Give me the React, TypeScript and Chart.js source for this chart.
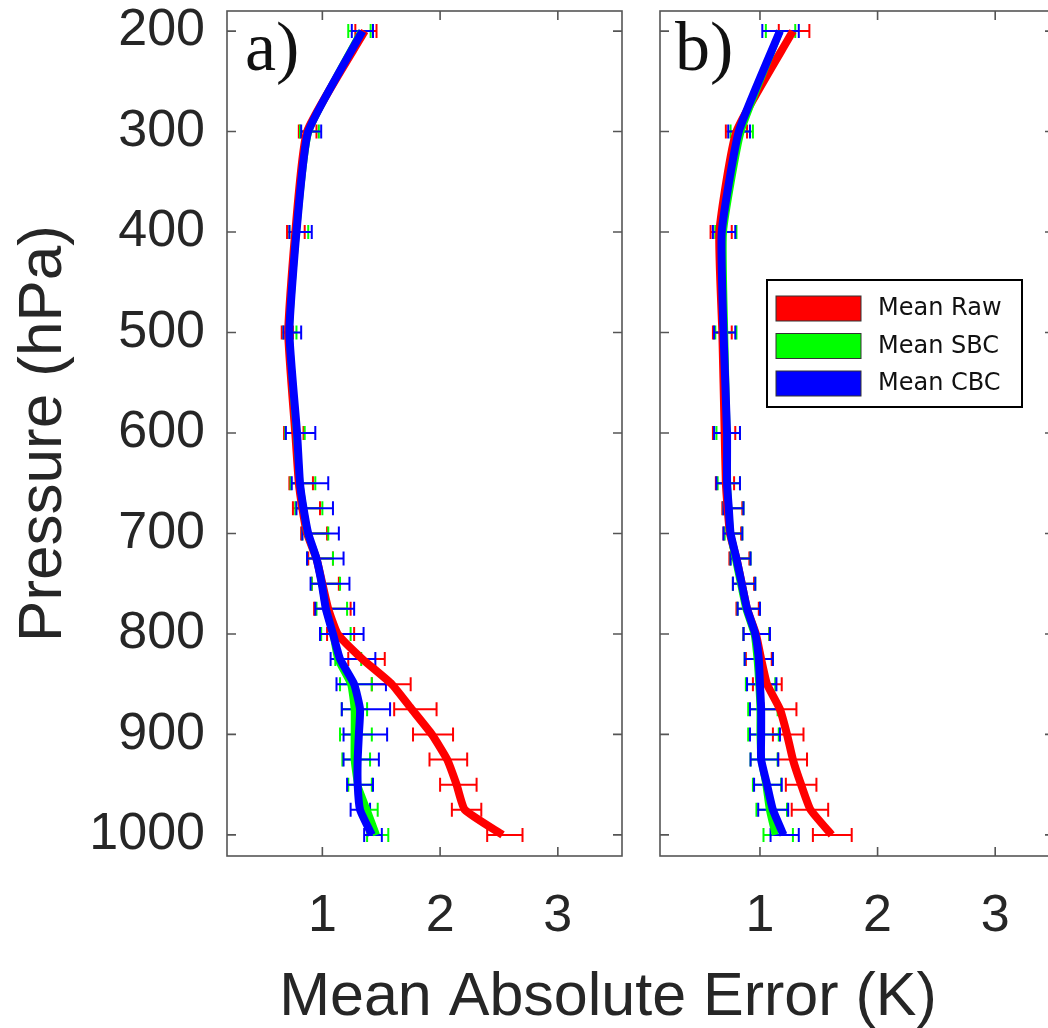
import React, { useEffect, useRef } from "react";
import { Chart, registerables } from "chart.js";

Chart.register(...registerables);

// ---------- data ----------
const pressureLevels = [200, 300, 400, 500, 600, 650, 675, 700, 725, 750, 775, 800, 825, 850, 875, 900, 925, 950, 975, 1000];
const yTickValues = [200, 300, 400, 500, 600, 700, 800, 900, 1000];
const xTickValues = [1, 2, 3];
const seriesLabels = ["Mean Raw", "Mean SBC", "Mean CBC"];
const seriesColors = ["#ff0000", "#00ff00", "#0000ff"];
const panelLabels = ["a)", "b)"];
const xAxisTitle = "Mean Absolute Error (K)";
const yAxisTitle = "Pressure (hPa)";

// panel a
const rawA = [1.36, 0.87, 0.77, 0.71, 0.77, 0.8, 0.83, 0.87, 0.95, 1.0, 1.05, 1.13, 1.34, 1.59, 1.76, 1.93, 2.06, 2.14, 2.21, 2.53];
const rawALo = [1.28, 0.8, 0.7, 0.655, 0.675, 0.72, 0.75, 0.82, 0.88, 0.91, 0.93, 1.04, 1.22, 1.42, 1.61, 1.77, 1.91, 2.0, 2.1, 2.4];
const rawAHi = [1.46, 0.95, 0.85, 0.75, 0.84, 0.92, 0.98, 1.04, 1.09, 1.14, 1.24, 1.27, 1.53, 1.75, 1.97, 2.11, 2.23, 2.31, 2.35, 2.7];
const sbcA = [1.33, 0.885, 0.78, 0.72, 0.78, 0.81, 0.84, 0.875, 0.95, 0.995, 1.03, 1.09, 1.13, 1.24, 1.27, 1.27, 1.27, 1.3, 1.38, 1.46];
const sbcALo = [1.22, 0.81, 0.72, 0.67, 0.685, 0.73, 0.77, 0.83, 0.87, 0.91, 0.95, 0.99, 1.11, 1.15, 1.165, 1.15, 1.17, 1.22, 1.32, 1.38];
const sbcAHi = [1.41, 0.97, 0.88, 0.78, 0.85, 0.94, 1.0, 1.05, 1.09, 1.15, 1.21, 1.24, 1.33, 1.42, 1.38, 1.42, 1.405, 1.42, 1.47, 1.56];
const cbcA = [1.34, 0.88, 0.78, 0.72, 0.785, 0.81, 0.84, 0.88, 0.95, 0.995, 1.03, 1.09, 1.15, 1.27, 1.32, 1.31, 1.3, 1.3, 1.32, 1.42];
const cbcALo = [1.25, 0.82, 0.72, 0.67, 0.69, 0.74, 0.78, 0.83, 0.87, 0.9, 0.94, 0.98, 1.07, 1.12, 1.165, 1.18, 1.18, 1.21, 1.24, 1.355];
const cbcAHi = [1.43, 0.99, 0.91, 0.82, 0.94, 1.05, 1.09, 1.14, 1.18, 1.23, 1.27, 1.35, 1.45, 1.54, 1.575, 1.55, 1.48, 1.43, 1.405, 1.505];

// panel b
const rawB = [1.28, 0.8, 0.655, 0.68, 0.7, 0.71, 0.725, 0.745, 0.8, 0.845, 0.89, 0.965, 1.01, 1.06, 1.17, 1.23, 1.28, 1.35, 1.43, 1.61];
const rawBLo = [1.16, 0.71, 0.58, 0.6, 0.6, 0.625, 0.68, 0.69, 0.74, 0.77, 0.8, 0.86, 0.88, 0.94, 1.03, 1.11, 1.155, 1.22, 1.27, 1.45];
const rawBHi = [1.42, 0.89, 0.76, 0.76, 0.79, 0.78, 0.85, 0.84, 0.91, 0.95, 0.99, 1.08, 1.1, 1.185, 1.31, 1.37, 1.4, 1.48, 1.58, 1.78];
const sbcB = [1.17, 0.84, 0.69, 0.7, 0.72, 0.725, 0.735, 0.75, 0.79, 0.835, 0.88, 0.95, 0.975, 0.99, 1.0, 1.0, 1.01, 1.05, 1.08, 1.13];
const sbcBLo = [1.05, 0.75, 0.62, 0.62, 0.63, 0.64, 0.69, 0.7, 0.75, 0.77, 0.81, 0.86, 0.87, 0.88, 0.9, 0.9, 0.92, 0.94, 0.97, 1.03];
const sbcBHi = [1.3, 0.94, 0.8, 0.8, 0.83, 0.83, 0.86, 0.85, 0.92, 0.96, 1.0, 1.08, 1.11, 1.13, 1.15, 1.16, 1.15, 1.18, 1.23, 1.28];
const cbcB = [1.17, 0.82, 0.675, 0.69, 0.72, 0.72, 0.735, 0.75, 0.8, 0.845, 0.89, 0.96, 0.99, 1.0, 1.01, 1.01, 1.01, 1.06, 1.11, 1.2];
const cbcBLo = [1.02, 0.73, 0.6, 0.61, 0.61, 0.63, 0.69, 0.69, 0.75, 0.77, 0.81, 0.86, 0.87, 0.89, 0.915, 0.915, 0.92, 0.95, 0.985, 1.09];
const cbcBHi = [1.33, 0.915, 0.79, 0.79, 0.83, 0.83, 0.86, 0.85, 0.92, 0.96, 1.0, 1.085, 1.11, 1.14, 1.17, 1.17, 1.155, 1.185, 1.24, 1.33];

// ---------- styling ----------
const SANS = "'Liberation Sans', Arial, sans-serif";
const TEXT = "#262626";
const TICK_FONT = 52;

function makeDatasets(means: number[][], los: number[][], his: number[][]) {
  return means.map((m, s) => ({
    label: seriesLabels[s],
    data: pressureLevels.map((p, i) => ({ x: m[i], y: p })),
    errLo: los[s],
    errHi: his[s],
    borderColor: seriesColors[s],
    backgroundColor: seriesColors[s],
    borderWidth: s === 1 ? 7 : 8,
    pointRadius: 0,
    showLine: true,
    tension: 0.15,
    order: 3 - s,
  }));
}

const errorBarPlugin = {
  id: "errorBars",
  beforeDatasetsDraw(chart: any) {
    const ctx = chart.ctx;
    const xs = chart.scales.x;
    const ys = chart.scales.y;
    ctx.save();
    chart.data.datasets.forEach((ds: any) => {
      ctx.strokeStyle = ds.borderColor;
      ctx.lineWidth = 2;
      pressureLevels.forEach((p, i) => {
        const y = ys.getPixelForValue(p);
        const x0 = xs.getPixelForValue(ds.errLo[i]);
        const x1 = xs.getPixelForValue(ds.errHi[i]);
        ctx.beginPath();
        ctx.moveTo(x0, y);
        ctx.lineTo(x1, y);
        ctx.moveTo(x0, y - 7);
        ctx.lineTo(x0, y + 7);
        ctx.moveTo(x1, y - 7);
        ctx.lineTo(x1, y + 7);
        ctx.stroke();
      });
    });
    ctx.restore();
  },
};

const framePlugin = {
  id: "frame",
  afterDraw(chart: any) {
    const ctx = chart.ctx;
    const { left, right, top, bottom } = chart.chartArea;
    const xs = chart.scales.x;
    const ys = chart.scales.y;
    ctx.save();
    ctx.strokeStyle = "#555555";
    ctx.lineWidth = 1.6;
    ctx.strokeRect(left, top, right - left, bottom - top);
    ctx.beginPath();
    xs.ticks.forEach((t: any) => {
      const px = xs.getPixelForValue(t.value);
      ctx.moveTo(px, bottom);
      ctx.lineTo(px, bottom - 9);
      ctx.moveTo(px, top);
      ctx.lineTo(px, top + 9);
    });
    ys.ticks.forEach((t: any) => {
      const py = ys.getPixelForValue(t.value);
      ctx.moveTo(left, py);
      ctx.lineTo(left + 9, py);
      ctx.moveTo(right, py);
      ctx.lineTo(right - 9, py);
    });
    ctx.stroke();
    ctx.restore();
  },
};

function panelLabelPlugin(text: string, dx: number) {
  return {
    id: "panelLabel",
    afterDraw(chart: any) {
      const ctx = chart.ctx;
      const { left, top } = chart.chartArea;
      ctx.save();
      ctx.fillStyle = "#111111";
      ctx.font = "70px 'Liberation Serif', 'Times New Roman', serif";
      ctx.textAlign = "left";
      ctx.textBaseline = "alphabetic";
      ctx.fillText(text, left + dx, top + 59);
      ctx.restore();
    },
  };
}

const titlesPlugin = {
  id: "titles",
  afterDraw(chart: any) {
    const ctx = chart.ctx;
    const { top, bottom } = chart.chartArea;
    ctx.save();
    ctx.fillStyle = TEXT;
    ctx.font = `61px ${SANS}`;
    ctx.textAlign = "center";
    ctx.textBaseline = "alphabetic";
    ctx.fillText(xAxisTitle, 608, 1015);
    ctx.translate(61, (top + bottom) / 2);
    ctx.rotate(-Math.PI / 2);
    ctx.font = `62px ${SANS}`;
    ctx.fillText(yAxisTitle, 0, 0);
    ctx.restore();
  },
};

const legendPlugin = {
  id: "boxLegend",
  afterDraw(chart: any) {
    const ctx = chart.ctx;
    const bx = chart.chartArea.left + 107;
    const by = 280;
    ctx.save();
    ctx.fillStyle = "#ffffff";
    ctx.fillRect(bx, by, 255, 127);
    ctx.strokeStyle = "#000000";
    ctx.lineWidth = 2;
    ctx.strokeRect(bx, by, 255, 127);
    chart.data.datasets.forEach((ds: any, i: number) => {
      const sy = by + 16 + i * 37.5;
      ctx.fillStyle = ds.borderColor;
      ctx.fillRect(bx + 9, sy, 85, 25);
      ctx.strokeStyle = "#333333";
      ctx.lineWidth = 1;
      ctx.strokeRect(bx + 9, sy, 85, 25);
      ctx.fillStyle = "#111111";
      ctx.font = "24px 'DejaVu Sans', sans-serif";
      ctx.textAlign = "left";
      ctx.textBaseline = "middle";
      ctx.fillText(ds.label, bx + 111, sy + 13);
    });
    ctx.restore();
  },
};

function makeConfig(datasets: any[], xMin: number, xMax: number, yAxisWidth: number, padRight: number, showYLabels: boolean, plugins: any[]) {
  return {
    type: "scatter" as const,
    data: { datasets },
    options: {
      animation: false as const,
      responsive: false,
      events: [],
      layout: { padding: { top: 11, right: padRight, left: 0, bottom: 0 } },
      plugins: { legend: { display: false }, tooltip: { enabled: false } },
      scales: {
        x: {
          type: "linear" as const,
          min: xMin,
          max: xMax,
          grid: { display: false, drawTicks: false },
          border: { display: false },
          afterBuildTicks: (s: any) => {
            s.ticks = xTickValues.map((v) => ({ value: v }));
          },
          afterFit: (s: any) => {
            s.height = 172;
            s.paddingLeft = 0;
            s.paddingRight = 0;
          },
          ticks: {
            color: TEXT,
            font: { family: SANS, size: TICK_FONT },
            padding: 29,
            autoSkip: false,
            maxRotation: 0,
            callback: (v: any) => String(v),
          },
        },
        y: {
          type: "linear" as const,
          reverse: true,
          min: 180,
          max: 1021,
          grid: { display: false, drawTicks: false },
          border: { display: false },
          afterBuildTicks: (s: any) => {
            s.ticks = yTickValues.map((v) => ({ value: v }));
          },
          afterFit: (s: any) => {
            s.width = yAxisWidth;
            s.paddingTop = 0;
            s.paddingBottom = 0;
          },
          ticks: {
            display: showYLabels,
            color: TEXT,
            font: { family: SANS, size: TICK_FONT },
            padding: 22,
            autoSkip: false,
            callback: (v: any) => String(v),
          },
        },
      },
    },
    plugins,
  };
}

export default function App() {
  const refA = useRef<HTMLCanvasElement | null>(null);
  const refB = useRef<HTMLCanvasElement | null>(null);

  useEffect(() => {
    const a = new Chart(
      refA.current as HTMLCanvasElement,
      makeConfig(
        makeDatasets([rawA, sbcA, cbcA], [rawALo, sbcALo, cbcALo], [rawAHi, sbcAHi, cbcAHi]),
        0.19,
        3.545,
        227,
        426,
        true,
        [errorBarPlugin, framePlugin, panelLabelPlugin(panelLabels[0], 18), titlesPlugin]
      ) as any
    );
    const b = new Chart(
      refB.current as HTMLCanvasElement,
      makeConfig(
        makeDatasets([rawB, sbcB, cbcB], [rawBLo, sbcBLo, cbcBLo], [rawBHi, sbcBHi, cbcBHi]),
        0.15,
        3.5,
        20,
        6,
        false,
        [errorBarPlugin, framePlugin, panelLabelPlugin(panelLabels[1], 15), legendPlugin]
      ) as any
    );
    return () => {
      a.destroy();
      b.destroy();
    };
  }, []);

  return (
    <div style={{ position: "fixed", left: 0, top: 0, width: 1048, height: 1028, overflow: "hidden", background: "#ffffff" }}>
      <canvas ref={refA} width={1048} height={1028} style={{ position: "absolute", left: 0, top: 0 }} />
      <canvas ref={refB} width={420} height={1028} style={{ position: "absolute", left: 640, top: 0 }} />
    </div>
  );
}
